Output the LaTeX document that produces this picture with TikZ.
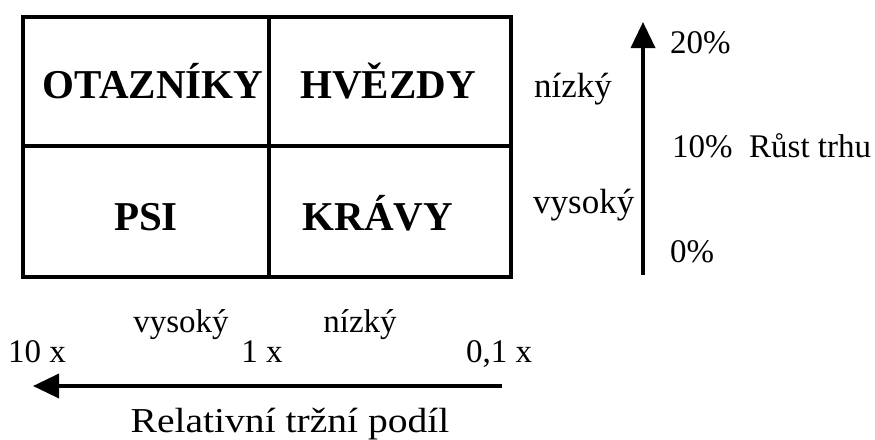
\documentclass[tikz,border=0pt]{standalone}
\usepackage{fontspec}
\setmainfont{Liberation Serif}
\usetikzlibrary{arrows.meta}
\begin{document}
\begin{tikzpicture}[x=1pt,y=-1pt,
  gridline/.style={line width=3.4pt, line join=miter},
  quadrant/.style={font=\fontsize{41}{45}\selectfont\bfseries, inner sep=0pt, anchor=base},
  scalelabel/.style={font=\fontsize{33}{36}\selectfont, inner sep=0pt},
  levellabel/.style={font=\fontsize{35}{38}\selectfont, inner sep=0pt},
  axis/.style={line width=3.6pt, -{Triangle[length=26pt,width=24pt]}},
  axistitle/.style={font=\fontsize{35}{38}\selectfont, inner sep=0pt, anchor=base}]
\useasboundingbox (0,0) rectangle (875,439);

% BCG matrix grid
\draw[gridline] (23,17) rectangle (511,277);
\draw[gridline] (269,17) -- (269,277);
\draw[gridline] (23,146) -- (511,146);

% quadrant names
\node[quadrant] (otazniky) at (153,98) {OTAZNÍKY};
\node[quadrant] (hvezdy)   at (388,98) {HVĚZDY};
\node[quadrant] (psi)      at (146,230) {PSI};
\node[quadrant] (kravy)    at (378,230) {KRÁVY};

% market growth axis
\coordinate (g0) at (643,275);
\coordinate (g1) at (643,22);
\draw[axis] (g0) -- (g1);
\node[scalelabel, anchor=base west] (p20) at (670,53) {20\%};
\node[scalelabel, anchor=base west] (p10) at (672,157) {10\%\ \ Růst trhu};
\node[scalelabel, anchor=base west] (p0)  at (670,262) {0\%};
\node[levellabel, anchor=base west] (gl)  at (534,97) {nízký};
\node[levellabel, anchor=base west] (gh)  at (533,213) {vysoký};

% relative market share axis
\coordinate (s0) at (502,386);
\coordinate (s1) at (33,386);
\draw[axis] (s0) -- (s1);
\node[scalelabel, anchor=base] (sh) at (181,332) {vysoký};
\node[scalelabel, anchor=base] (sl) at (360,332) {nízký};
\node[scalelabel, anchor=base] (x10) at (37,362) {10 x};
\node[scalelabel, anchor=base] (x1)  at (262,362) {1 x};
\node[scalelabel, anchor=base] (x01) at (499,362) {0,1 x};
\node[axistitle] (share) at (290,432) {\scalebox{1.13}[1]{Relativní tržní podíl}};
\end{tikzpicture}
\end{document}
